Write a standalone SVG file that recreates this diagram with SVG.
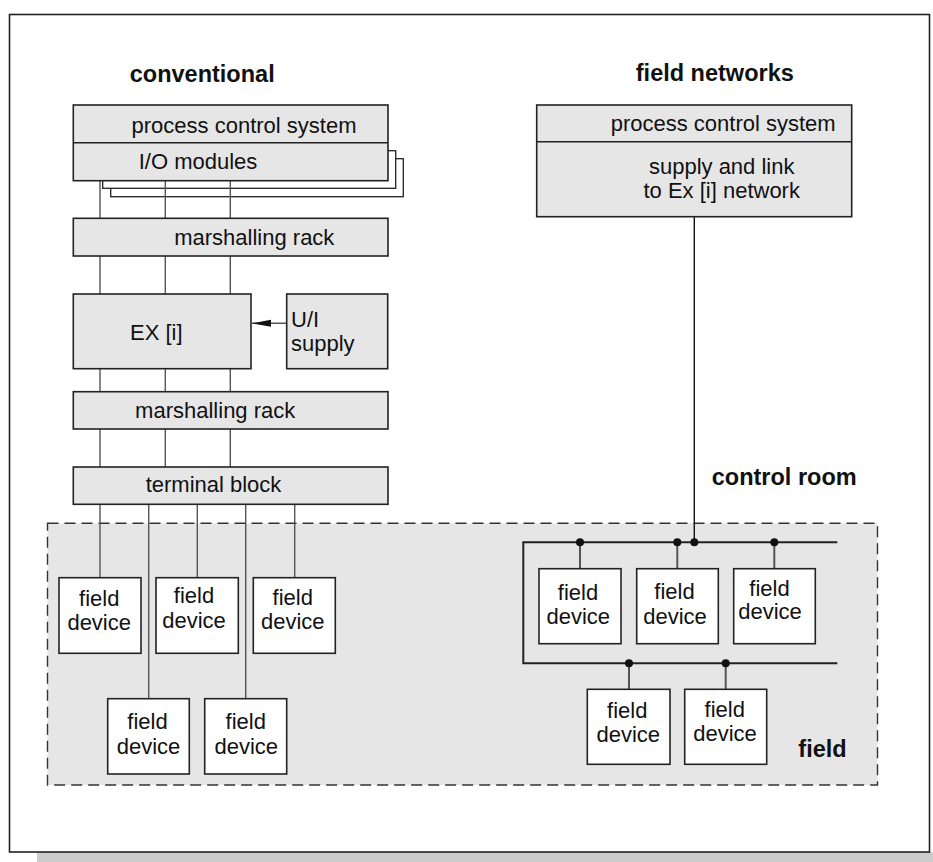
<svg xmlns="http://www.w3.org/2000/svg" width="933" height="862" viewBox="0 0 933 862">
<style>
  .box { fill: #e6e6e6; stroke: #222; stroke-width: 1.6; }
  .dev { fill: #ffffff; stroke: #222; stroke-width: 1.6; }
  .sh { fill: #ffffff; stroke: #222; stroke-width: 1.3; }
  .t { font-family: "Liberation Sans", Arial, sans-serif; font-size: 22px; fill: #111; }
  .m { text-anchor: middle; }
  .b { font-family: "Liberation Sans", Arial, sans-serif; font-size: 23.5px; font-weight: bold; fill: #111; text-anchor: middle; }
  .w { stroke: #555; stroke-width: 1.4; fill: none; }
  .bus { stroke: #222; stroke-width: 2; fill: none; }
  .drop { stroke: #555; stroke-width: 2; fill: none; }
  .dot { fill: #111; }
</style>
<defs>
  <marker id="arr" markerWidth="20" markerHeight="10" refX="19" refY="4" orient="auto" markerUnits="userSpaceOnUse">
    <path d="M0,0.5 L19,4 L0,7.5 Z" fill="#111"/>
  </marker>
</defs>

<g id="background">
  <rect x="37" y="852" width="896" height="10" fill="#cccccc"/>
  <rect x="9.5" y="14.5" width="920" height="837.5" fill="#ffffff" stroke="#222" stroke-width="1.6"/>
</g>

<g id="field-area">
  <rect x="47.5" y="523.3" width="830" height="261.7" fill="#e6e6e6" stroke="#333" stroke-width="1.4" stroke-dasharray="11,6"/>
</g>

<g id="titles">
  <text class="b" x="202.2" y="81.7">conventional</text>
  <text class="b" x="714.8" y="81">field networks</text>
  <text class="b" x="784.2" y="485">control room</text>
  <text class="b" x="822.5" y="756.7">field</text>
</g>

<g id="io-shadows">
  <rect class="sh" x="110.7" y="158.7" width="292.6" height="38"/>
  <rect class="sh" x="102.7" y="150.7" width="293" height="37.6"/>
</g>

<g id="connectors">
  <path class="w" d="M100,180.7 V218.3 M165.3,180.7 V218.3 M230.3,180.7 V218.3"/>
  <path class="w" d="M100,256 V294 M165.3,256 V294 M230.3,256 V294"/>
  <path class="w" d="M100,368.7 V391.7 M165.3,368.7 V391.7 M230.3,368.7 V391.7"/>
  <path class="w" d="M100,429 V467 M165.3,429 V467 M230.3,429 V467"/>
  <path class="w" d="M100,504.3 V577.7 M148.7,504.3 V698.7 M197.3,504.3 V577.7 M245.7,504.3 V698.7 M294.7,504.3 V577.7"/>
  <line class="w" x1="286.7" y1="323.3" x2="252" y2="323.3" marker-end="url(#arr)"/>
  <line stroke="#111" stroke-width="1.4" x1="694.3" y1="216.7" x2="694.3" y2="542.3"/>
  <path class="bus" d="M837.3,542.3 H523.3 V663.3 H837.3"/>
  <path class="drop" d="M580,542.3 V568.7 M677.3,542.3 V568.7 M774.3,542.3 V568.7 M629,663.3 V689.3 M725.7,663.3 V689.3"/>
  <circle class="dot" cx="580" cy="542.3" r="4"/>
  <circle class="dot" cx="677.3" cy="542.3" r="4"/>
  <circle class="dot" cx="694.3" cy="542.3" r="4"/>
  <circle class="dot" cx="774.3" cy="542.3" r="4"/>
  <circle class="dot" cx="629" cy="663.3" r="4"/>
  <circle class="dot" cx="725.7" cy="663.3" r="4"/>
</g>

<g id="pcs-left">
  <rect class="box" x="73.3" y="105" width="314.7" height="75.7"/>
  <line stroke="#222" stroke-width="1.6" x1="73.3" y1="142.7" x2="388" y2="142.7"/>
  <text class="t m" x="244" y="133.3">process control system</text>
  <text class="t m" x="198" y="169.3">I/O modules</text>
</g>

<g id="marshalling-rack-1">
  <rect class="box" x="73.3" y="218.3" width="314.7" height="37.7"/>
  <text class="t m" x="254.3" y="245">marshalling rack</text>
</g>

<g id="ex-i">
  <rect class="box" x="73.3" y="294" width="177.7" height="74.7"/>
  <text class="t m" x="156.3" y="340">EX [i]</text>
</g>

<g id="ui-supply">
  <rect class="box" x="286.7" y="294" width="101" height="74.7"/>
  <text class="t" x="291" y="327">U/I</text>
  <text class="t" x="291" y="351">supply</text>
</g>

<g id="marshalling-rack-2">
  <rect class="box" x="73.3" y="391.7" width="314.7" height="37.3"/>
  <text class="t m" x="215.2" y="418">marshalling rack</text>
</g>

<g id="terminal-block">
  <rect class="box" x="73.3" y="467" width="314.7" height="37.3"/>
  <text class="t m" x="213.5" y="491.7">terminal block</text>
</g>

<g id="pcs-right">
  <rect class="box" x="536.7" y="105" width="315" height="111.7"/>
  <line stroke="#222" stroke-width="1.6" x1="536.7" y1="141.7" x2="851.7" y2="141.7"/>
  <text class="t m" x="723.2" y="130.7">process control system</text>
  <text class="t m" x="721.7" y="174">supply and link</text>
  <text class="t m" x="721.7" y="198.3">to Ex [i] network</text>
</g>

<g id="fd-l1">
  <rect class="dev" x="59" y="577.7" width="82" height="75.6"/>
  <text class="t m" x="99.2" y="606">field</text>
  <text class="t m" x="99.2" y="630">device</text>
</g>
<g id="fd-l2">
  <rect class="dev" x="156" y="577.7" width="82.3" height="75.6"/>
  <text class="t m" x="194" y="602.7">field</text>
  <text class="t m" x="194" y="627.7">device</text>
</g>
<g id="fd-l3">
  <rect class="dev" x="253.3" y="577.7" width="82" height="75.6"/>
  <text class="t m" x="292.8" y="605">field</text>
  <text class="t m" x="292.8" y="629">device</text>
</g>
<g id="fd-l4">
  <rect class="dev" x="107.7" y="698.7" width="81.6" height="75.3"/>
  <text class="t m" x="147.5" y="729.3">field</text>
  <text class="t m" x="148.5" y="754">device</text>
</g>
<g id="fd-l5">
  <rect class="dev" x="204.7" y="698.7" width="82" height="75.3"/>
  <text class="t m" x="245.8" y="729.3">field</text>
  <text class="t m" x="246.3" y="754">device</text>
</g>

<g id="fd-r1">
  <rect class="dev" x="539" y="568.7" width="82" height="75"/>
  <text class="t m" x="578" y="600">field</text>
  <text class="t m" x="578.3" y="624">device</text>
</g>
<g id="fd-r2">
  <rect class="dev" x="636.7" y="568.7" width="81.6" height="75"/>
  <text class="t m" x="674.5" y="599">field</text>
  <text class="t m" x="675" y="624">device</text>
</g>
<g id="fd-r3">
  <rect class="dev" x="733.7" y="568.7" width="81.6" height="75"/>
  <text class="t m" x="769.5" y="596">field</text>
  <text class="t m" x="770" y="619.3">device</text>
</g>
<g id="fd-r4">
  <rect class="dev" x="587.3" y="689.3" width="82.7" height="75"/>
  <text class="t m" x="627.3" y="718.3">field</text>
  <text class="t m" x="628.3" y="742">device</text>
</g>
<g id="fd-r5">
  <rect class="dev" x="684.7" y="689.3" width="82" height="75"/>
  <text class="t m" x="724.7" y="717.3">field</text>
  <text class="t m" x="725" y="740.7">device</text>
</g>
</svg>
